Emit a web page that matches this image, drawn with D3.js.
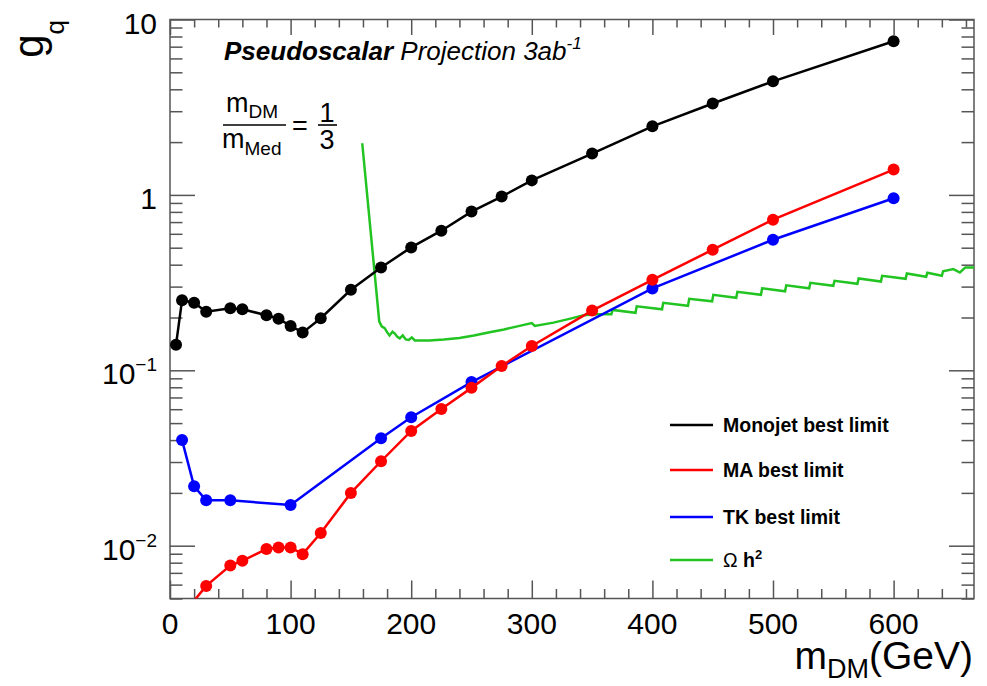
<!DOCTYPE html>
<html>
<head>
<meta charset="utf-8">
<script src="https://cdn.jsdelivr.net/npm/d3@7"></script>
<style>
  body { margin: 0; background: #fff; }
  svg { display: block; }
  text { font-family: "Liberation Sans", Arial, Helvetica, sans-serif; fill: #000; }
</style>
</head>
<body>
<svg id="chart" width="987" height="686"></svg>
<script>
// ---- data ----
const monoX = [5, 10, 20, 30, 50, 60, 80, 90, 100, 110, 125, 150, 175, 200, 225, 250, 275, 300, 350, 400, 450, 500, 600];
const monoY = [0.14, 0.251, 0.243, 0.216, 0.226, 0.223, 0.206, 0.197, 0.179, 0.164, 0.198, 0.288, 0.386, 0.502, 0.625, 0.803, 0.978, 1.21, 1.72, 2.46, 3.32, 4.44, 7.52];

const maX = [10, 30, 50, 60, 80, 90, 100, 110, 125, 150, 175, 200, 225, 250, 275, 300, 350, 400, 450, 500, 600];
const maY = [0.004, 0.0059, 0.0077, 0.0082, 0.00957, 0.00978, 0.00978, 0.00895, 0.0118, 0.02, 0.0303, 0.0451, 0.0602, 0.0794, 0.1057, 0.1375, 0.219, 0.328, 0.487, 0.722, 1.395];

const tkX = [10, 20, 30, 50, 100, 175, 200, 250, 400, 500, 600];
const tkY = [0.04, 0.0218, 0.01815, 0.01815, 0.01706, 0.041, 0.054, 0.0857, 0.293, 0.555, 0.957];

// relic density curve Omega h^2
const relicX = [159.4, 173.5, 175.5, 178, 180, 182, 184.5, 186.5, 188.5, 190.5, 193, 195.5, 198, 200.5, 203, 215, 227, 240, 252, 265, 277, 288, 300, 302.5, 318, 332, 343, 354, 366, 367, 386, 387, 408, 409, 429.5, 430.5, 449.5, 450.5, 469.5, 470.5, 490, 491, 510, 511, 530, 531, 550, 551, 570, 571, 589.5, 590.5, 610, 611, 627, 628, 640, 641, 649.5, 655, 659.5, 666.7];
const relicY = [1.97, 0.19, 0.178, 0.174, 0.165, 0.158, 0.166, 0.162, 0.155, 0.152, 0.158, 0.150, 0.149, 0.154, 0.148, 0.148, 0.150, 0.153, 0.158, 0.165, 0.171, 0.178, 0.186, 0.179, 0.187, 0.197, 0.206, 0.209, 0.209, 0.221, 0.2126, 0.2315, 0.2226, 0.2424, 0.233, 0.2555, 0.2472, 0.2693, 0.2589, 0.2802, 0.2693, 0.2934, 0.2821, 0.3052, 0.2934, 0.3152, 0.3032, 0.3237, 0.3111, 0.3337, 0.3207, 0.3458, 0.3324, 0.3565, 0.3412, 0.3597, 0.3458, 0.3669, 0.3777, 0.3611, 0.3858, 0.3858];

const xMajorTicks = [0, 100, 200, 300, 400, 500, 600];
const yMajorTicks = [10, 1, 0.1, 0.01];
const yTickBase = ["10", "1", "10", "10"];
const yTickExp = ["", "", "\u22121", "\u22122"];

const seriesNames = ["Monojet best limit", "MA best limit", "TK best limit"];
const seriesColors = ["#000000", "#ff0000", "#0000ff"];
const relicColor = "#22c422";

// ---- layout ----
const svg = d3.select("#chart");
const L = 170, R = 974, T = 19.5, B = 598.5;
const frameColor = "#555";

const x = d3.scaleLinear().domain([0, 2000 / 3]).range([L, R]);
const y = d3.scaleLog().domain([0.005, 10]).range([B, T]);

svg.append("defs").append("clipPath").attr("id", "plotClip")
  .append("rect").attr("x", L).attr("y", T).attr("width", R - L).attr("height", B - T);

// ---- axes (ticks pointing inward) ----
const xMinor = d3.range(0, 667, 20).filter(v => v % 100 !== 0);
const yMinor = y.ticks().filter(v => Math.abs(Math.log10(v) - Math.round(Math.log10(v))) > 1e-6);

function styleAxis(g) {
  g.select(".domain").remove();
  g.selectAll(".tick line").attr("stroke", frameColor).attr("stroke-width", 1.5);
  g.selectAll(".tick text").remove();
}

svg.append("g").attr("transform", `translate(0,${B})`)
  .call(d3.axisBottom(x).tickValues(xMajorTicks).tickSize(-18).tickFormat(""))
  .call(styleAxis);
svg.append("g").attr("transform", `translate(0,${B})`)
  .call(d3.axisBottom(x).tickValues(xMinor).tickSize(-9.5).tickFormat(""))
  .call(styleAxis);
svg.append("g").attr("transform", `translate(0,${T})`)
  .call(d3.axisTop(x).tickValues(xMajorTicks).tickSize(-15.5).tickFormat(""))
  .call(styleAxis);
svg.append("g").attr("transform", `translate(0,${T})`)
  .call(d3.axisTop(x).tickValues(xMinor).tickSize(-8).tickFormat(""))
  .call(styleAxis);

svg.append("g").attr("transform", `translate(${L},0)`)
  .call(d3.axisLeft(y).tickValues(yMajorTicks).tickSize(-25).tickFormat(""))
  .call(styleAxis);
svg.append("g").attr("transform", `translate(${L},0)`)
  .call(d3.axisLeft(y).tickValues(yMinor).tickSize(-12.5).tickFormat(""))
  .call(styleAxis);
svg.append("g").attr("transform", `translate(${R},0)`)
  .call(d3.axisRight(y).tickValues(yMajorTicks).tickSize(-25).tickFormat(""))
  .call(styleAxis);
svg.append("g").attr("transform", `translate(${R},0)`)
  .call(d3.axisRight(y).tickValues(yMinor).tickSize(-12.5).tickFormat(""))
  .call(styleAxis);

// frame
svg.append("rect").attr("x", L).attr("y", T).attr("width", R - L).attr("height", B - T)
  .attr("fill", "none").attr("stroke", frameColor).attr("stroke-width", 1.5);

// x tick labels
svg.append("g").selectAll("text").data(xMajorTicks).join("text")
  .attr("x", d => x(d)).attr("y", 634)
  .attr("text-anchor", "middle").attr("font-size", 30)
  .text(d => d);

// y tick labels with exponents
const yl = svg.append("g").selectAll("text").data(yMajorTicks).join("text")
  .attr("x", 157).attr("y", d => y(d) + 14)
  .attr("text-anchor", "end").attr("font-size", 30);
yl.append("tspan").text((d, i) => yTickBase[i]);
yl.append("tspan").attr("font-size", 19).attr("dy", -13).text((d, i) => yTickExp[i]);

// axis titles
const xt = svg.append("text").attr("x", R - 1).attr("y", 669).attr("text-anchor", "end").attr("font-size", 39);
xt.append("tspan").text("m");
xt.append("tspan").attr("font-size", 27).attr("dy", 9).text("DM");
xt.append("tspan").attr("dy", -9).text("(GeV)");

const yt = svg.append("text").attr("transform", "translate(43,20) rotate(-90)")
  .attr("text-anchor", "end").attr("font-size", 42);
yt.append("tspan").text("g");
yt.append("tspan").attr("font-size", 26).attr("dy", 21).text("q");

// ---- data lines & markers ----
const line = d3.line().x(d => x(d[0])).y(d => y(d[1]));
const plot = svg.append("g").attr("clip-path", "url(#plotClip)");

const relic = relicX.map((v, i) => [v, relicY[i]]);
plot.append("path").datum(relic).attr("d", line)
  .attr("fill", "none").attr("stroke", relicColor).attr("stroke-width", 2.5);

const series = [
  monoX.map((v, i) => [v, monoY[i]]),
  maX.map((v, i) => [v, maY[i]]),
  tkX.map((v, i) => [v, tkY[i]])
];
// draw in order: monojet, TK, MA  (MA on top of TK)
[0, 2, 1].forEach(k => {
  plot.append("path").datum(series[k]).attr("d", line)
    .attr("fill", "none").attr("stroke", seriesColors[k]).attr("stroke-width", 2.5);
  plot.append("g").selectAll("circle").data(series[k]).join("circle")
    .attr("cx", d => x(d[0])).attr("cy", d => y(d[1])).attr("r", 6)
    .attr("fill", seriesColors[k]);
});

// ---- text annotations ----
const title = svg.append("text").attr("x", 224).attr("y", 60).attr("font-size", 26).attr("font-style", "italic");
title.append("tspan").attr("font-weight", "bold").text("Pseudoscalar");
title.append("tspan").text(" Projection 3ab");
title.append("tspan").attr("font-size", 17).attr("dy", -11).text("-1");

const num = svg.append("text").attr("x", 226).attr("y", 112).attr("font-size", 27);
num.append("tspan").text("m");
num.append("tspan").attr("font-size", 19).attr("dy", 6).text("DM");
const den = svg.append("text").attr("x", 222).attr("y", 148).attr("font-size", 27);
den.append("tspan").text("m");
den.append("tspan").attr("font-size", 19).attr("dy", 7).text("Med");
svg.append("line").attr("x1", 223).attr("x2", 286).attr("y1", 125).attr("y2", 125)
  .attr("stroke", "#000").attr("stroke-width", 1.6);
svg.append("text").attr("x", 292).attr("y", 134.5).attr("font-size", 27).text("=");
svg.append("text").attr("x", 327).attr("y", 122).attr("font-size", 27).attr("text-anchor", "middle").text("1");
svg.append("line").attr("x1", 318).attr("x2", 337).attr("y1", 125).attr("y2", 125)
  .attr("stroke", "#000").attr("stroke-width", 1.6);
svg.append("text").attr("x", 327).attr("y", 149).attr("font-size", 27).attr("text-anchor", "middle").text("3");

// ---- legend ----
const legY = [425, 470, 517, 560];
const legColors = seriesColors.concat([relicColor]);
const leg = svg.append("g");
legY.forEach((ly, i) => {
  leg.append("line").attr("x1", 670).attr("x2", 713).attr("y1", ly).attr("y2", ly)
    .attr("stroke", legColors[i]).attr("stroke-width", 2.5);
});
seriesNames.forEach((name, i) => {
  leg.append("text").attr("x", 723).attr("y", legY[i] + 7)
    .attr("font-size", 19.5).attr("font-weight", "bold").text(name);
});
const om = leg.append("text").attr("x", 723).attr("y", legY[3] + 7).attr("font-size", 19.5);
om.append("tspan").text("\u03A9 ");
om.append("tspan").attr("font-weight", "bold").text("h");
om.append("tspan").attr("font-weight", "bold").attr("font-size", 13).attr("dy", -8).text("2");
</script>
</body>
</html>
